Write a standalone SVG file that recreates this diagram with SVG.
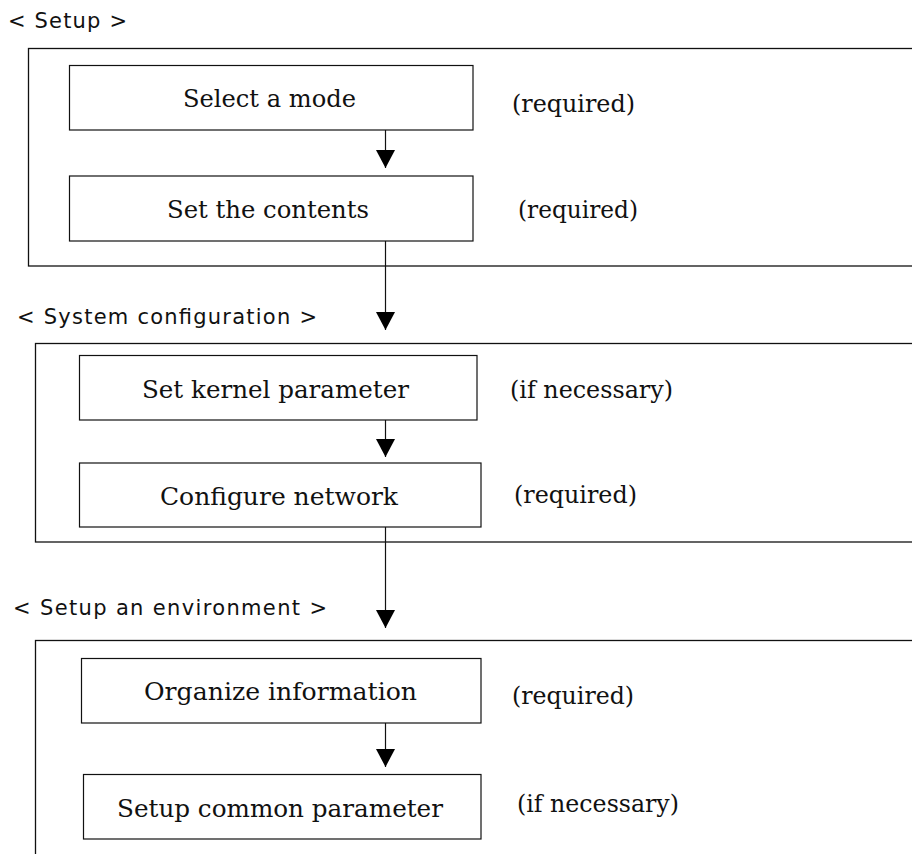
<svg xmlns="http://www.w3.org/2000/svg" width="912" height="854" viewBox="0 0 912 854">
<style>
.bg{fill:#fff}
.frame{fill:none;stroke:#111;stroke-width:1.3}
.box{fill:#fff;stroke:#111;stroke-width:1.2}
.sec{font-family:"DejaVu Sans","Liberation Sans",sans-serif;font-size:21px;fill:#111}
.t{font-family:"DejaVu Serif","Liberation Serif",serif;font-size:24px;fill:#111}
.n{font-family:"DejaVu Serif","Liberation Serif",serif;font-size:24px;fill:#111}
.line{fill:none;stroke:#111;stroke-width:1.2}
</style>
<defs>
<marker id="arr" markerUnits="userSpaceOnUse" markerWidth="18" markerHeight="19" refX="18" refY="9.5" orient="auto" viewBox="0 0 18 19">
<path d="M0,0 L18,9.5 L0,19 Z" fill="#000"/>
</marker>
</defs>
<rect class="bg" x="0" y="0" width="912" height="854"/>

<g id="section-setup">
<text class="sec" x="8" y="28" textLength="119" lengthAdjust="spacing">&lt; Setup &gt;</text>
<rect class="frame" x="28.5" y="48.5" width="900" height="217.5"/>
</g>
<g id="node-select-mode">
<rect class="box" x="69.5" y="65.5" width="403.5" height="64.5"/>
<text class="t" x="183" y="107" textLength="173" lengthAdjust="spacingAndGlyphs">Select a mode</text>
<text class="n" x="512" y="112" textLength="123" lengthAdjust="spacingAndGlyphs">(required)</text>
</g>
<g id="node-set-contents">
<rect class="box" x="69.5" y="176" width="403.5" height="65"/>
<text class="t" x="167" y="218" textLength="202" lengthAdjust="spacingAndGlyphs">Set the contents</text>
<text class="n" x="518" y="218" textLength="120" lengthAdjust="spacingAndGlyphs">(required)</text>
</g>

<g id="section-system">
<text class="sec" x="17" y="324" textLength="300" lengthAdjust="spacing">&lt; System configuration &gt;</text>
<rect class="frame" x="35.5" y="343.5" width="900" height="198.5"/>
</g>
<g id="node-kernel">
<rect class="box" x="79.5" y="355.5" width="397.5" height="64.5"/>
<text class="t" x="142" y="398" textLength="267" lengthAdjust="spacingAndGlyphs">Set kernel parameter</text>
<text class="n" x="510" y="398" textLength="163" lengthAdjust="spacingAndGlyphs">(if necessary)</text>
</g>
<g id="node-network">
<rect class="box" x="79.5" y="463" width="401.5" height="64"/>
<text class="t" x="160" y="505" textLength="238" lengthAdjust="spacingAndGlyphs">Configure network</text>
<text class="n" x="514" y="503" textLength="123" lengthAdjust="spacingAndGlyphs">(required)</text>
</g>

<g id="section-environment">
<text class="sec" x="13" y="615" textLength="314" lengthAdjust="spacing">&lt; Setup an environment &gt;</text>
<rect class="frame" x="35.5" y="640.5" width="900" height="240"/>
</g>
<g id="node-organize">
<rect class="box" x="81.5" y="658.5" width="399.5" height="64.5"/>
<text class="t" x="144" y="700" textLength="273" lengthAdjust="spacingAndGlyphs">Organize information</text>
<text class="n" x="512" y="704" textLength="122" lengthAdjust="spacingAndGlyphs">(required)</text>
</g>
<g id="node-common">
<rect class="box" x="83.5" y="774.5" width="397.5" height="64.5"/>
<text class="t" x="117" y="817" textLength="326" lengthAdjust="spacingAndGlyphs">Setup common parameter</text>
<text class="n" x="517" y="812" textLength="162" lengthAdjust="spacingAndGlyphs">(if necessary)</text>
</g>

<g id="connectors">
<line class="line" x1="385.5" y1="130" x2="385.5" y2="168" marker-end="url(#arr)"/>
<line class="line" x1="385.5" y1="241" x2="385.5" y2="330" marker-end="url(#arr)"/>
<line class="line" x1="385.5" y1="420" x2="385.5" y2="457" marker-end="url(#arr)"/>
<line class="line" x1="385.5" y1="527" x2="385.5" y2="628" marker-end="url(#arr)"/>
<line class="line" x1="385.5" y1="723" x2="385.5" y2="767" marker-end="url(#arr)"/>
</g>
</svg>
